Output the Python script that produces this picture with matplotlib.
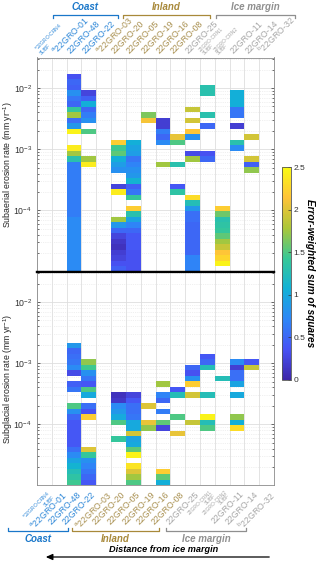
import numpy as np
import matplotlib
matplotlib.use('Agg')
import matplotlib.pyplot as plt
from matplotlib.colors import LinearSegmentedColormap
from matplotlib.lines import Line2D
from matplotlib.patches import FancyArrowPatch
from matplotlib.ticker import LogLocator, NullFormatter

plt.rcParams['font.family'] = ['Liberation Sans', 'DejaVu Sans']
plt.rcParams['mathtext.fontset'] = 'custom'
plt.rcParams['mathtext.rm'] = 'Liberation Sans'
plt.rcParams['mathtext.it'] = 'Liberation Sans:italic'
plt.rcParams['mathtext.bf'] = 'Liberation Sans:bold'

# samples, ordered from coast to ice margin
sample_ids = ['22GRO-CRN4 SUBF', '22GRO-01', '22GRO-48', '22GRO-22', '22GRO-03',
              '22GRO-20', '22GRO-05', '22GRO-19', '22GRO-16', '22GRO-08',
              '22GRO-25', '22GRO-CRN1 SUBF', '22GRO-CRN2 SUBF', '22GRO-11',
              '22GRO-14', '22GRO-32']
notes = ['a', 'a', '', '', 'a', '', '', '', '', '', '', '', '', '', '', 'b']
groups = ['Coast'] * 4 + ['Inland'] * 6 + ['Ice margin'] * 6

# erosion-rate bins (log spaced), 39 bins between 1e-5 and 10^-1.5 mm/yr
rate_edges = np.logspace(-5, -1.5, 40)

# runs of bins: (first bin, last bin, error-weighted sum of squares)
subaerial_runs = {
    '22GRO-48': [(0, 9, 0.75), (10, 19, 0.65), (20, 20, 1.3), (21, 21, 1.75), (22, 22, 2.4),
                 (25, 25, 2.45), (26, 26, 0.85), (27, 27, 0.55), (28, 28, 1.75), (29, 29, 1.4),
                 (30, 30, 0.5), (31, 31, 0.6), (32, 32, 0.8), (33, 33, 0.45), (34, 34, 0.5),
                 (35, 35, 0.35)],
    '22GRO-22': [(19, 19, 2.4), (20, 20, 1.75), (25, 25, 1.5), (27, 27, 0.8), (28, 28, 0.65),
                 (29, 29, 0.5), (30, 30, 1.05), (31, 31, 0.45), (32, 32, 0.25)],
    '22GRO-20': [(0, 0, 0.45), (1, 1, 0.35), (2, 2, 0.25), (3, 3, 0.2), (4, 4, 0.1),
                 (5, 5, 0.15), (6, 6, 0.25), (7, 7, 0.5), (8, 8, 0.85), (9, 9, 1.75),
                 (14, 14, 2.4), (15, 15, 0.25), (18, 18, 0.8), (19, 19, 0.9), (20, 20, 1.05),
                 (21, 21, 1.55), (22, 22, 1.45), (23, 23, 2.2)],
    '22GRO-05': [(0, 3, 0.35), (4, 6, 0.4), (7, 7, 0.5), (8, 8, 0.7), (9, 9, 0.95),
                 (10, 10, 1.3), (11, 11, 2.2), (13, 13, 1.4), (14, 14, 0.6), (15, 15, 0.45),
                 (16, 16, 1.1), (17, 17, 0.85), (18, 18, 0.8), (19, 19, 0.7), (20, 20, 0.6),
                 (21, 21, 0.9), (22, 22, 0.95), (23, 23, 1.05)],
    '22GRO-19': [(27, 27, 2.1), (28, 28, 1.65)],
    '22GRO-16': [(19, 19, 1.75), (23, 23, 0.75), (24, 24, 0.5), (25, 25, 0.65), (26, 27, 0.2)],
    '22GRO-08': [(14, 14, 1.35), (15, 15, 0.4), (19, 19, 1.3), (23, 23, 1.5), (24, 24, 2.05)],
    '22GRO-25': [(0, 2, 0.7), (3, 8, 0.5), (9, 10, 0.55), (11, 11, 0.85), (12, 12, 1.25),
                 (13, 13, 2.3), (20, 20, 1.75), (21, 21, 0.3), (24, 24, 0.8), (25, 25, 2.15),
                 (27, 27, 1.95), (29, 29, 1.9)],
    '22GRO-CRN1 SUBF': [(20, 20, 0.5), (21, 21, 0.35), (26, 26, 0.5), (28, 28, 1.3), (32, 33, 1.3)],
    '22GRO-CRN2 SUBF': [(1, 1, 2.45), (2, 2, 2.25), (3, 3, 2.15), (4, 4, 1.9), (5, 5, 1.75),
                        (6, 6, 1.55), (7, 7, 1.4), (8, 8, 1.35), (9, 9, 1.3), (10, 10, 1.6),
                        (11, 11, 2.2)],
    '22GRO-11': [(22, 22, 0.75), (23, 23, 1.3), (26, 26, 0.2), (28, 29, 0.6), (30, 32, 1.05)],
    '22GRO-14': [(18, 18, 1.7), (19, 19, 0.45), (20, 20, 1.95), (24, 24, 1.95)],
}

subglacial_runs = {
    '22GRO-48': [(0, 0, 1.45), (1, 1, 1.35), (2, 2, 1.25), (3, 3, 1.1), (4, 4, 0.95),
                 (5, 5, 0.75), (6, 6, 0.55), (7, 11, 0.4), (12, 12, 0.5), (13, 13, 0.8),
                 (14, 14, 1.5), (17, 17, 0.6), (18, 18, 0.45), (20, 20, 0.3), (21, 21, 0.75),
                 (22, 22, 0.6), (23, 23, 0.55), (24, 24, 0.5), (25, 25, 0.85)],
    '22GRO-22': [(0, 0, 0.4), (1, 1, 0.5), (2, 2, 0.6), (3, 3, 0.7), (4, 4, 0.8), (5, 5, 1.4),
                 (6, 6, 2.0), (12, 12, 2.2), (13, 13, 0.35), (14, 14, 0.55), (16, 16, 1.0),
                 (17, 17, 1.5), (18, 18, 0.4), (19, 19, 0.6), (20, 20, 0.8), (21, 21, 1.45),
                 (22, 22, 1.7)],
    '22GRO-20': [(8, 8, 1.4), (11, 11, 1.5), (12, 12, 1.0), (13, 13, 0.85), (14, 14, 0.75),
                 (15, 15, 0.15), (16, 16, 0.1)],
    '22GRO-05': [(0, 0, 1.5), (1, 1, 1.75), (2, 2, 2.0), (3, 3, 2.35), (5, 5, 2.45),
                 (6, 6, 1.55), (7, 7, 1.0), (8, 8, 0.95), (9, 9, 1.95), (10, 11, 1.0),
                 (12, 12, 0.6), (13, 14, 0.55), (15, 15, 0.4), (16, 16, 0.25)],
    '22GRO-19': [(10, 10, 1.7), (11, 11, 2.05), (14, 14, 2.0)],
    '22GRO-16': [(0, 0, 1.05), (1, 1, 1.55), (2, 2, 2.2), (10, 10, 0.25), (11, 11, 1.55),
                 (13, 13, 0.65), (15, 15, 0.5), (16, 16, 0.7), (18, 18, 1.75)],
    '22GRO-08': [(9, 9, 2.05), (12, 12, 1.5), (16, 16, 1.25), (17, 17, 0.4)],
    '22GRO-25': [(11, 11, 1.9), (16, 16, 1.95), (18, 18, 2.2), (19, 19, 0.8), (20, 20, 0.35),
                 (21, 21, 0.5)],
    '22GRO-CRN1 SUBF': [(10, 10, 1.5), (11, 11, 1.25), (12, 12, 2.45), (16, 16, 1.25),
                        (21, 21, 1.25), (22, 22, 0.5), (23, 23, 0.4)],
    '22GRO-CRN2 SUBF': [(19, 19, 1.25)],
    '22GRO-11': [(10, 10, 2.3), (11, 11, 1.05), (12, 12, 1.7), (16, 16, 1.0), (18, 18, 0.95),
                 (19, 20, 0.55), (21, 21, 0.2), (22, 22, 0.75)],
    '22GRO-14': [(21, 21, 1.9), (22, 22, 0.4)],
}

group_colors = {'Coast': '#1a77c9', 'Inland': '#a8893a', 'Ice margin': '#8f8f8f'}
label_colors = {'Coast': '#2f88d8', 'Inland': '#a99050', 'Ice margin': '#a6a6a6'}

# MATLAB parula (8 anchor colours)
parula = LinearSegmentedColormap.from_list('parula', [
    (0.2422, 0.1504, 0.6603), (0.2810, 0.3228, 0.9579), (0.1786, 0.5289, 0.9682),
    (0.0689, 0.6948, 0.8394), (0.2161, 0.7843, 0.5923), (0.6720, 0.7793, 0.2227),
    (0.9970, 0.7659, 0.2199), (0.9769, 0.9839, 0.0805)])


def build_grid(runs):
    Z = np.full((len(rate_edges) - 1, len(sample_ids)), np.nan)
    for j, sid in enumerate(sample_ids):
        for lo, hi, val in runs.get(sid, []):
            Z[lo:hi + 1, j] = val
    return Z


W, H = 320, 562
fig = plt.figure(figsize=(W / 100, H / 100), dpi=100)


def fx(px):
    return px / W


def fy(py):
    return 1 - py / H


ax1 = fig.add_axes([fx(37), fy(271.5), fx(274) - fx(37), fy(57.5) - fy(271.5)])
ax2 = fig.add_axes([fx(37), fy(485.4), fx(274) - fx(37), fy(271.5) - fy(485.4)])
cax = fig.add_axes([fx(282), fy(380), fx(291) - fx(282), fy(167) - fy(380)])

x_edges = np.arange(len(sample_ids) + 1)
mesh = None
for ax, runs, ylab in [(ax1, subaerial_runs, 'Subaerial erosion rate (mm yr$^{-1}$)'),
                       (ax2, subglacial_runs, 'Subglacial erosion rate (mm yr$^{-1}$)')]:
    Z = build_grid(runs)
    mesh = ax.pcolormesh(x_edges, rate_edges, Z, cmap=parula, vmin=0, vmax=2.5,
                         shading='flat', linewidth=0, zorder=2)
    ax.set_yscale('log')
    ax.set_ylim(1e-5, 10 ** -1.5)
    ax.set_xlim(0, len(sample_ids))
    ax.set_xticks(x_edges)
    ax.set_xticklabels([])
    ax.set_yticks([1e-4, 1e-3, 1e-2])
    ax.yaxis.set_minor_locator(LogLocator(base=10, subs=np.arange(2, 10)))
    ax.yaxis.set_minor_formatter(NullFormatter())
    ax.tick_params(axis='x', length=0)
    ax.tick_params(axis='y', which='both', direction='in', right=True, labelsize=6.3,
                   colors='#333333', length=2.5, width=0.5)
    ax.tick_params(axis='y', which='minor', length=1.3)
    ax.grid(True, which='major', color='#dedede', lw=0.6, zorder=0)
    ax.grid(True, which='minor', axis='y', color='#e2e2e2', lw=0.5, ls=':', zorder=0)
    ax.set_axisbelow(True)
    for sp in ax.spines.values():
        sp.set_color('#8a8a8a')
        sp.set_linewidth(0.6)
    ax.set_ylabel(ylab, fontsize=6.3, color='#222222')
    ax.yaxis.set_label_coords(-0.092, 0.5)

ax1.spines['bottom'].set_color('black')
ax1.spines['bottom'].set_linewidth(1.6)
ax2.spines['top'].set_color('black')
ax2.spines['top'].set_linewidth(1.6)

# sample labels above and below
for i, sid in enumerate(sample_ids):
    small = 'SUBF' in sid
    name = sid.replace(' SUBF', '\nSUBF')
    if notes[i]:
        name = r'$^{\mathrm{' + notes[i] + '}}$' + name
    col = label_colors[groups[i]]
    fs = 3.6 if small else 6.3
    ax1.text(i + 0.35, 1.008, name, transform=ax1.get_xaxis_transform(), rotation=45,
             rotation_mode='anchor', ha='left', va='bottom', fontsize=fs, color=col,
             linespacing=0.9)
    ax2.text(i + 0.65, -0.02, name, transform=ax2.get_xaxis_transform(), rotation=45,
             rotation_mode='anchor', ha='right', va='top', fontsize=fs, color=col,
             linespacing=0.9)

# colorbar
cb = fig.colorbar(mesh, cax=cax, ticks=[0, 0.5, 1, 1.5, 2, 2.5])
cb.ax.set_yticklabels(['0', '0.5', '1', '1.5', '2', '2.5'])
cb.ax.tick_params(labelsize=6, direction='in', length=2, width=0.5, colors='#333333', pad=2)
cb.outline.set_edgecolor('#555555')
cb.outline.set_linewidth(0.6)
fig.text(fx(310), fy(273), 'Error-weighted sum of squares', rotation=270,
         ha='center', va='center', fontsize=7.2, fontweight='bold', fontstyle='italic')


def bracket(x0, x1, ybar, ytick, color, label, ytext):
    fig.add_artist(Line2D([fx(x0), fx(x0), fx(x1), fx(x1)],
                          [fy(ytick), fy(ybar), fy(ybar), fy(ytick)],
                          transform=fig.transFigure, color=color, lw=0.9))
    fig.text(fx((x0 + x1) / 2), fy(ytext), label, ha='center', va='center', fontsize=7,
             fontweight='bold', fontstyle='italic', color=color)


# top brackets
top_spans = {'Coast': (53, 118), 'Inland': (123, 210), 'Ice margin': (216, 295)}
for g, (a, b) in top_spans.items():
    bracket(a, b, 14.5, 18, group_colors[g], g, 7)

# bottom brackets
bottom_spans = {'Coast': (8, 68), 'Inland': (72, 159), 'Ice margin': (166, 246)}
for g, (a, b) in bottom_spans.items():
    bracket(a, b, 531, 527.5, group_colors[g], g, 538.5)

fig.text(fx(164), fy(549), 'Distance from ice margin', ha='center', va='center',
         fontsize=6.6, fontweight='bold', fontstyle='italic', color='black')
fig.add_artist(FancyArrowPatch(
    (fx(272), fy(557)), (fx(43), fy(557)), transform=fig.transFigure,
    arrowstyle='-|>,head_length=4,head_width=1.8', color='black', lw=0.9))

plt.savefig('out.png', dpi=100)
